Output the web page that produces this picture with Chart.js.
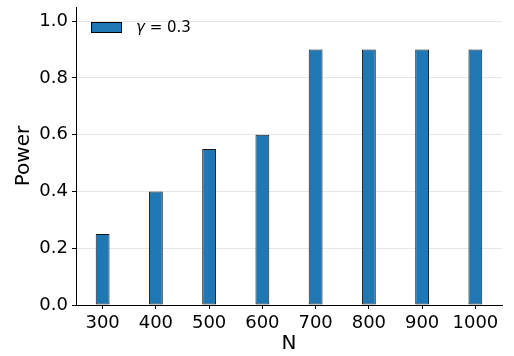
<!DOCTYPE html>
<html>
<head>
<meta charset="utf-8">
<script src="https://cdn.jsdelivr.net/npm/chart.js@4"></script>
<style>
  html, body { margin: 0; padding: 0; background: #fff; }
  #wrap { width: 514px; height: 356px; }
</style>
</head>
<body>
<div id="wrap"><canvas id="myChart" width="514" height="356"></canvas></div>
<script>
const categories = ['300', '400', '500', '600', '700', '800', '900', '1000'];
const powerValues = [0.25, 0.4, 0.55, 0.6, 0.9, 0.9, 0.9, 0.9];
const yTicks = [0.0, 0.2, 0.4, 0.6, 0.8, 1.0];
const seriesGamma = '0.3';

const FONT = 'DejaVu Sans';
const barBlue = '#1f77b4';

// legend drawn inside the plot, top-left like matplotlib
const insideLegend = {
    id: 'insideLegend',
    afterDraw(chart) {
        const ctx = chart.ctx;
        const a = chart.chartArea;
        const x = a.left + 15, y = a.top + 15;
        ctx.save();
        ctx.fillStyle = barBlue;
        ctx.strokeStyle = '#000';
        ctx.lineWidth = 1;
        ctx.fillRect(x, y, 31, 11);
        ctx.strokeRect(x + 0.5, y + 0.5, 30, 10);
        ctx.fillStyle = '#000';
        ctx.textBaseline = 'middle';
        ctx.font = 'italic 15px ' + FONT;
        let tx = x + 45;
        ctx.fillText('γ', tx, y + 6);
        tx += ctx.measureText('γ').width;
        ctx.font = '15px ' + FONT;
        ctx.fillText(' = ' + seriesGamma, tx, y + 6);
        ctx.restore();
    }
};

new Chart(document.getElementById('myChart'), {
    type: 'bar',
    data: {
        labels: categories,
        datasets: [{
            label: 'γ = ' + seriesGamma,
            data: powerValues,
            backgroundColor: barBlue,
            borderColor: '#1a1a1a',
            borderWidth: 1,
            borderSkipped: false,
            barPercentage: 0.26,
            categoryPercentage: 1.0
        }]
    },
    options: {
        responsive: false,
        animation: false,
        layout: { padding: { top: 7, right: 12, left: 0, bottom: 0 } },
        plugins: {
            legend: { display: false },
            tooltip: { enabled: false }
        },
        scales: {
            x: {
                grid: { drawOnChartArea: false, offset: false, tickLength: 4, tickColor: '#000' },
                border: { color: '#000', width: 1 },
                ticks: { color: '#000', font: { family: FONT, size: 18 }, padding: 4, maxRotation: 0 },
                title: { display: true, text: 'N', color: '#000', font: { family: FONT, size: 20 }, padding: { top: 0, bottom: 0 } },
                afterFit(scale) { scale.height = 51; }
            },
            y: {
                min: 0,
                max: 1.05,
                afterBuildTicks(scale) { scale.ticks = yTicks.map(v => ({ value: v })); },
                grid: { color: '#e6e6e6', tickLength: 4, tickColor: '#000', lineWidth: 1 },
                border: { color: '#000', width: 1 },
                ticks: {
                    color: '#000', font: { family: FONT, size: 18 }, padding: 4,
                    callback: v => v.toFixed(1)
                },
                title: { display: true, text: 'Power', color: '#000', font: { family: FONT, size: 20 }, padding: { top: 12, bottom: 6 } },
                afterFit(scale) { scale.width = 76; scale.paddingTop = 0; }
            }
        }
    },
    plugins: [insideLegend]
});
</script>
</body>
</html>
